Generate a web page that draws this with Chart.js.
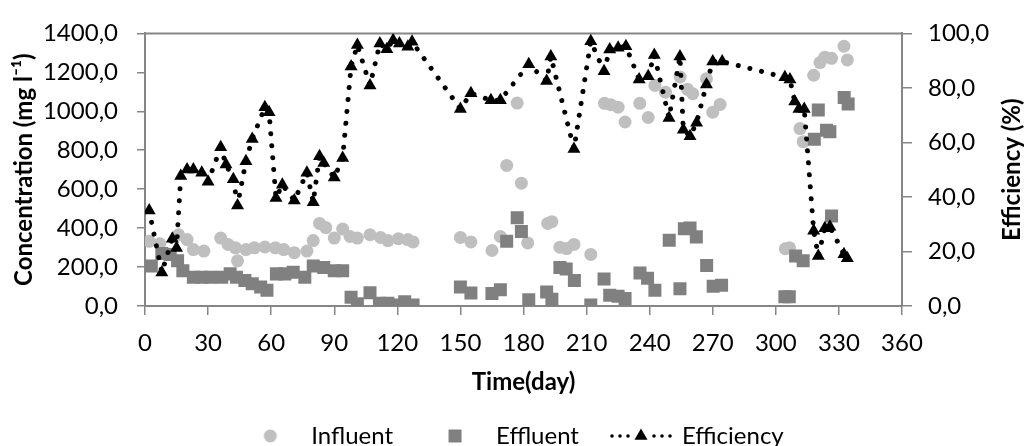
<!DOCTYPE html>
<html><head><meta charset="utf-8">
<script src="https://cdn.jsdelivr.net/npm/chart.js@4.4.0/dist/chart.umd.min.js"></script>
<style>html,body{margin:0;padding:0;background:#fff;overflow:hidden;}</style>
</head><body>
<canvas id="c" width="1025" height="446"></canvas>
<script>
// ---- data ----
const infDays = [2,7,16,20,23,28,36,39.5,43,44,48,52,57,62,66,71,77,80,83,86,90,94,97.5,101,107,112,115.5,120.5,125,127.5,150,155,165,169,172,177,179,182,191.5,193.5,197.3,200.5,204,212,218.5,221.5,225,228.3,235.3,239.3,242.5,247.5,254.5,258,260.5,267,270,273.5,304.5,306.5,311.5,313,318,321,323.3,326.5,332.4,334];
const infValues = [332,320,366,341,290,282,349,316,299,232,290,299,303,299,290,274,282,336,424,403,349,395,357,349,366,352,336,346,341,329,352,329,285,357,722,1042,631,324,424,433,302,295,316,265,1041,1034,1021,945,1041,968,1133,1098,1176,1113,1090,1167,995,1035,294,299,911,844,1185,1250,1278,1272,1334,1264];

const effDays = [3,8,12,15.5,18,23,27,31,36.5,40.5,43.5,47.5,51,55,58,62.5,66.5,70.5,76,80,85,90,94,98,101,107,111.5,115.5,119.5,123.5,127.5,150,155,165,169,172,177,179,182.5,191,193.5,197.3,200.3,204.2,212,218.3,221,225,228.3,235.4,239,242.5,249.3,254.4,256.5,259.2,262.2,267.1,270.2,274.2,304.3,306.4,309.4,313,318.3,320.2,324.1,325.7,326.5,332.5,334.4];
const effValues = [206,270,265,232,181,148,148,148,148,165,148,131,114,97,81,165,165,173,148,206,198,181,181,45,12,68,14,14,5,22,5,97,67,64,84,332,453,383,32,72,34,198,190,131,5,139,55,50,39,169,143,81,338,89,397,401,355,208,101,106,47,47,257,232,856,1007,903,895,462,1071,1037];

const effcDays = [2,8,13,15,17,20,23,27,30,36,38.5,42,44,48,51,57,59,62.3,65.3,71,77,80,83,85,90,94,98,101,107,111.7,115,118,121,125,127,150,155,164.5,169,182.5,191,193,204,212,218.3,221,225,228.7,235,239.3,242.2,249.2,254.4,256,259.2,262.3,267,270,274.5,304.3,306.7,309,311,313.5,318,320.2,323.3,325.7,332.4,334];
const effcValues = [35,12.3,24.7,21.3,47.7,50.1,50.1,48.9,45.6,58.2,51.9,46.5,36.9,53.1,61.3,72.9,71.1,39.6,44.5,38.7,48.9,38.1,54.9,52.5,47.1,54.3,87.9,95.7,80.9,96.3,94.2,97.5,96.3,95.1,96.9,72.3,78,75.5,75.5,88.7,82.5,91.5,57.6,97.1,86.1,94.1,94.7,95.3,83.1,84.3,92.1,69,91.5,64.7,62.3,67.2,81.3,89.7,89.7,83.9,83.1,75,72.3,72.3,27.6,18.3,28.5,29.1,19,17.5];

const seriesNames = ['Influent','Effluent','Efficiency'];
const xTickStep = 30, xMax = 360;
const yLeftMax = 1400, yLeftStep = 200;
const yRightMax = 100, yRightStep = 20;
const xTitle = 'Time(day)';
const yLeftTitle = 'Concentration (mg l\u207B\u00B9)';
const yRightTitle = 'Efficiency (%)';

// ---- styles ----
const INF_COLOR = '#BFBFBF', EFF_COLOR = '#808080', EFFC_COLOR = '#000000', AXIS_COLOR = '#868686';
const FONT = 'Lato';
const FS = 24;

function pts(xs, ys){ return xs.map((x,i)=>({x:x, y:ys[i]})); }

function mk(draw){ const c=document.createElement('canvas'); c.width=64; c.height=22; const g=c.getContext('2d'); draw(g); return c; }
const legCircle = mk(g=>{ g.fillStyle=INF_COLOR; g.beginPath(); g.arc(32,11,6.5,0,Math.PI*2); g.fill(); });
const legSquare = mk(g=>{ g.fillStyle=EFF_COLOR; g.fillRect(25.5,4.5,13,13); });
const legEff = mk(g=>{
  g.fillStyle=EFFC_COLOR;
  [3,11,19,45,53,61].forEach(x=>{ g.beginPath(); g.arc(x,11,1.8,0,Math.PI*2); g.fill(); });
  const r=7.5; g.beginPath();
  g.moveTo(32, 11-r); g.lineTo(32+r*Math.sqrt(3)/2, 11+r/2); g.lineTo(32-r*Math.sqrt(3)/2, 11+r/2); g.closePath(); g.fill();
});
const legImgs = [legCircle, legSquare, legEff];

Chart.defaults.font.family = FONT;
Chart.defaults.color = '#000';

const boxPlugin = {
  id:'boxPlugin',
  beforeDatasetsDraw(chart){
    const {ctx, chartArea:a} = chart;
    ctx.save(); ctx.strokeStyle=AXIS_COLOR; ctx.lineWidth=2;
    ctx.beginPath(); ctx.moveTo(a.left, a.top); ctx.lineTo(a.right, a.top); ctx.stroke();
    ctx.restore();
  },
  afterDraw(chart){
    const {ctx, chartArea:a} = chart;
    ctx.save();
    ctx.font = 'bold ' + FS + 'px ' + FONT; ctx.fillStyle='#000';
    ctx.textAlign='center'; ctx.textBaseline='middle';
    ctx.translate(1012, (a.top+a.bottom)/2); ctx.rotate(-Math.PI/2);
    ctx.fillText(yRightTitle, 0, 0);
    ctx.restore();
  }
};

new Chart(document.getElementById('c'), {
  type:'scatter',
  data:{ datasets:[
    { label:seriesNames[0], data:pts(infDays, infValues), yAxisID:'y', order:3,
      pointStyle:'circle', pointRadius:6.5, pointHoverRadius:6.5, pointBackgroundColor:INF_COLOR, pointBorderWidth:0, showLine:false },
    { label:seriesNames[1], data:pts(effDays, effValues), yAxisID:'y', order:2,
      pointStyle:'rect', pointRadius:9.2, pointHoverRadius:9.2, pointBackgroundColor:EFF_COLOR, pointBorderWidth:0, showLine:false },
    { label:seriesNames[2], data:pts(effcDays, effcValues), yAxisID:'y2', order:1,
      pointStyle:'triangle', pointRadius:7.5, pointHoverRadius:7.5, pointBackgroundColor:EFFC_COLOR, pointBorderWidth:0,
      showLine:true, borderColor:EFFC_COLOR, borderWidth:5, borderDash:[0.001,12], borderCapStyle:'round', tension:0, fill:false }
  ]},
  options:{
    responsive:false, animation:false, events:[],
    layout:{ padding:{ top:28, left:0, right:0, bottom:-12 } },
    plugins:{
      tooltip:{enabled:false},
      legend:{ position:'bottom', align:'center',
        labels:{ usePointStyle:true, pointStyleWidth:58, padding:33, font:{size:FS, family:FONT}, color:'#000',
          generateLabels(chart){ return seriesNames.map((n,i)=>({ text:n, pointStyle:legImgs[i], fillStyle:'#000', strokeStyle:'#000', lineWidth:0, hidden:false, datasetIndex:i, fontColor:'#000' })); } } }
    },
    scales:{
      x:{ type:'linear', position:'bottom', min:0, max:xMax,
        ticks:{ stepSize:xTickStep, padding:14, font:{size:FS}, color:'#000', maxRotation:0 },
        grid:{ display:true, drawOnChartArea:false, drawTicks:true, tickLength:9, color:AXIS_COLOR, lineWidth:1.5 },
        border:{ display:true, color:AXIS_COLOR, width:2 },
        title:{ display:true, text:xTitle, font:{size:FS, weight:'bold'}, color:'#000', padding:{top:0, bottom:-6} },
        afterFit(s){ s.height = 85; } },
      y:{ type:'linear', position:'left', min:0, max:yLeftMax,
        ticks:{ stepSize:yLeftStep, padding:19, font:{size:FS}, color:'#000', callback:v=>Number(v).toFixed(1).replace('.',',') },
        grid:{ display:true, drawOnChartArea:false, drawTicks:true, tickLength:8, color:AXIS_COLOR, lineWidth:1.5 },
        border:{ display:true, color:AXIS_COLOR, width:2 },
        title:{ display:true, text:yLeftTitle, font:{size:FS, weight:'bold'}, color:'#000', padding:{top:10, bottom:0} },
        afterFit(s){ s.width = 145; } },
      y2:{ type:'linear', position:'right', min:0, max:yRightMax,
        ticks:{ stepSize:yRightStep, padding:16, font:{size:FS}, color:'#000', callback:v=>Number(v).toFixed(1).replace('.',',') },
        grid:{ display:true, drawOnChartArea:false, drawTicks:true, tickLength:10, color:AXIS_COLOR, lineWidth:1.5 },
        border:{ display:true, color:AXIS_COLOR, width:2 },
        title:{ display:false },
        afterFit(s){ s.width = 123; } }
    }
  },
  plugins:[boxPlugin]
});
</script>
</body></html>
